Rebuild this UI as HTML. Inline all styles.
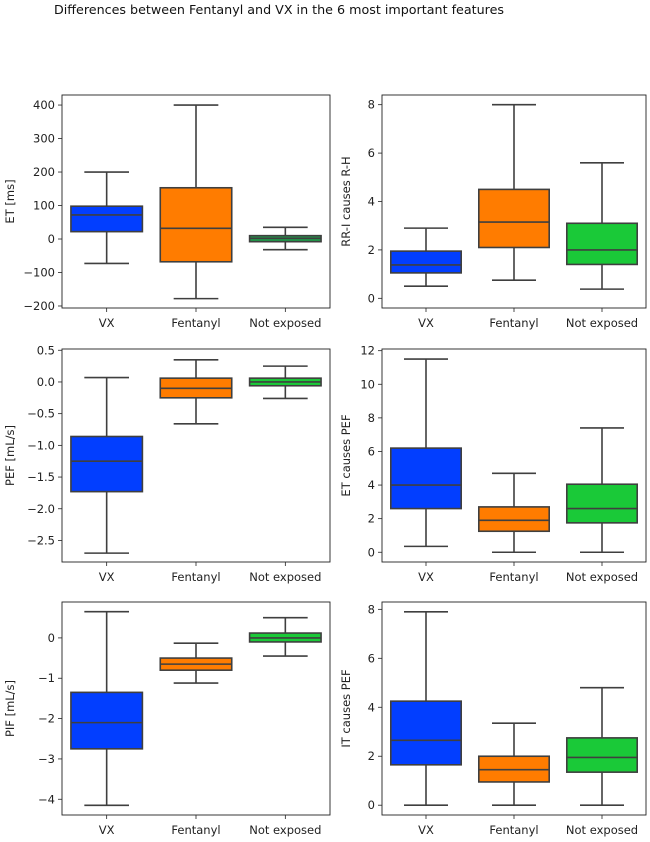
<!DOCTYPE html>
<html><head><meta charset="utf-8"><style>
body{margin:0;background:#fff;}
svg{display:block;font-family:"DejaVu Sans","Liberation Sans",sans-serif;}
</style></head><body>
<svg id="fig" width="650" height="842">
<text x="279" y="14" text-anchor="middle" font-size="12.7" fill="#111">Differences between Fentanyl and VX in the 6 most important features</text>
</svg>
<script>
const categories = ["VX", "Fentanyl", "Not exposed"];
const panelNames = ["ET [ms]", "RR-I causes R-H", "PEF [mL/s]", "ET causes PEF", "PIF [mL/s]", "IT causes PEF"];
// [whiskerLow, q1, median, q3, whiskerHigh] per category
const etStats = [[-73,22,72,98,200],[-178,-68,32,153,400],[-32,-8,2,10,35]];
const rriStats = [[0.5,1.05,1.38,1.95,2.9],[0.75,2.1,3.15,4.5,8],[0.38,1.4,2.0,3.1,5.6]];
const pefStats = [[-2.7,-1.73,-1.25,-0.86,0.07],[-0.66,-0.25,-0.1,0.06,0.35],[-0.26,-0.06,0,0.06,0.25]];
const etPefStats = [[0.35,2.6,4.0,6.2,11.5],[0,1.25,1.9,2.7,4.7],[0,1.75,2.6,4.05,7.4]];
const pifStats = [[-4.15,-2.75,-2.1,-1.35,0.65],[-1.12,-0.8,-0.65,-0.5,-0.13],[-0.45,-0.1,0,0.12,0.5]];
const itPefStats = [[0,1.65,2.65,4.25,7.9],[0,0.95,1.45,2.0,3.35],[0,1.35,1.95,2.75,4.8]];
const etTicks = [-200,-100,0,100,200,300,400];
const rriTicks = [0,2,4,6,8];
const pefTicks = [-2.5,-2.0,-1.5,-1.0,-0.5,0.0,0.5];
const etPefTicks = [0,2,4,6,8,10,12];
const pifTicks = [-4,-3,-2,-1,0];
const itPefTicks = [0,2,4,6,8];
const etTickLabels = ["−200","−100","0","100","200","300","400"];
const rriTickLabels = ["0","2","4","6","8"];
const pefTickLabels = ["−2.5","−2.0","−1.5","−1.0","−0.5","0.0","0.5"];
const etPefTickLabels = ["0","2","4","6","8","10","12"];
const pifTickLabels = ["−4","−3","−2","−1","0"];
const itPefTickLabels = ["0","2","4","6","8"];
const domains = [[-206,430],[-0.4,8.4],[-2.84,0.52],[-0.58,12.1],[-4.39,0.89],[-0.4,8.3]];

const allStats=[etStats,rriStats,pefStats,etPefStats,pifStats,itPefStats];
const allTicks=[etTicks,rriTicks,pefTicks,etPefTicks,pifTicks,itPefTicks];
const allLabels=[etTickLabels,rriTickLabels,pefTickLabels,etPefTickLabels,pifTickLabels,itPefTickLabels];
const colors=["#023eff","#ff7c00","#1ac938"];
const NS="http://www.w3.org/2000/svg";
const svg=document.getElementById("fig");
function mk(tag,attrs,parent){const e=document.createElementNS(NS,tag);for(const k in attrs)e.setAttribute(k,attrs[k]);parent.appendChild(e);return e;}
const cols=[[62,330],[382,646]], rows=[95,349,602], H=213;
for(let p=0;p<6;p++){
  const [x0,x1]=cols[p%2]; const y0=rows[Math.floor(p/2)], y1=y0+H;
  const [d0,d1]=domains[p];
  const y=v=>y1-(v-d0)/(d1-d0)*H;
  const bw=(x1-x0)/3;
  const xc=i=>x0+bw*(i+0.5);
  const g=mk("g",{},svg);
  
  
  allStats[p].forEach((s,i)=>{
    const c=xc(i), hw=bw*0.4, cw=bw*0.25;
    const bg=mk("g",{},g);
    
    
    const st={stroke:"#3f3f3f","stroke-width":1.6};
    mk("line",Object.assign({x1:c,x2:c,y1:y(s[0]),y2:y(s[1])},st),bg);
    mk("line",Object.assign({x1:c,x2:c,y1:y(s[3]),y2:y(s[4])},st),bg);
    mk("line",Object.assign({x1:c-cw,x2:c+cw,y1:y(s[0]),y2:y(s[0])},st),bg);
    mk("line",Object.assign({x1:c-cw,x2:c+cw,y1:y(s[4]),y2:y(s[4])},st),bg);
    const fill=(p===0&&i===2)?"#1f9a4a":colors[i];
    mk("rect",Object.assign({x:c-hw,y:y(s[3]),width:2*hw,height:y(s[1])-y(s[3]),fill:fill},st),bg);
    mk("line",Object.assign({x1:c-hw,x2:c+hw,y1:y(s[2]),y2:y(s[2])},st),bg);
    mk("line",{x1:c,x2:c,y1:y1,y2:y1+4,stroke:"#222","stroke-width":0.8},g);
    const t=mk("text",{x:c,y:y1+19,"text-anchor":"middle","font-size":11.5,fill:"#222"},g);
    t.textContent=categories[i];
    
    
  });
  allTicks[p].forEach((v,k)=>{
    mk("line",{x1:x0-4,x2:x0,y1:y(v),y2:y(v),stroke:"#222","stroke-width":0.8},g);
    const t=mk("text",{x:x0-7,y:y(v)+4,"text-anchor":"end","font-size":11.5,fill:"#222"},g);
    t.textContent=allLabels[p][k];
    
    
  });
  mk("rect",{x:x0,y:y0,width:x1-x0,height:H,fill:"none",stroke:"#222","stroke-width":0.9},g);
  const lx=p%2===0?x0-48:x0-32;
  const t=mk("text",{x:lx,y:(y0+y1)/2,"text-anchor":"middle","font-size":11.5,fill:"#222",transform:`rotate(-90 ${lx} ${(y0+y1)/2})`},g);
  t.textContent=panelNames[p];
  
  
}
</script>
</body></html>
